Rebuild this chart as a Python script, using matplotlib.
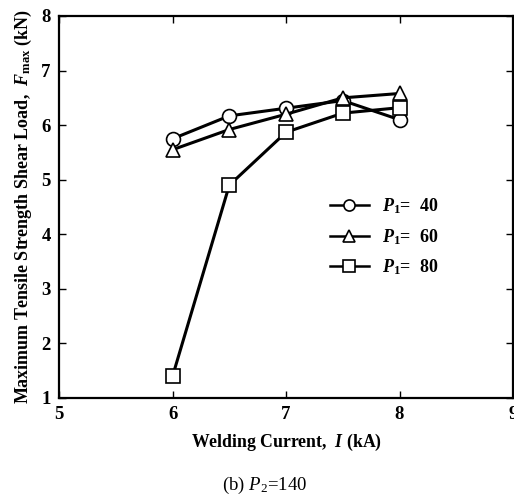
import matplotlib
matplotlib.use("Agg")
import matplotlib.pyplot as plt

# welding current (kA) and peak shear load (kN) for each P1 setting
current = [6.0, 6.5, 7.0, 7.5, 8.0]
load_p40 = [5.75, 6.17, 6.31, 6.45, 6.10]
load_p60 = [5.55, 5.92, 6.20, 6.50, 6.58]
load_p80 = [1.40, 4.90, 5.87, 6.22, 6.32]

series = [
    (load_p40, "o", r"$P_1$=  40"),
    (load_p60, "^", r"$P_1$=  60"),
    (load_p80, "s", r"$P_1$=  80"),
]

plt.rcParams["font.family"] = "Liberation Serif"
plt.rcParams["mathtext.fontset"] = "custom"
plt.rcParams["mathtext.rm"] = "Liberation Serif:bold"
plt.rcParams["mathtext.it"] = "Liberation Serif:italic:bold"
plt.rcParams["mathtext.bf"] = "Liberation Serif:bold"
plt.rcParams["mathtext.sf"] = "Liberation Serif:italic"
plt.rcParams["mathtext.tt"] = "Liberation Serif"


def main():
    fig = plt.figure(figsize=(5.14, 5.00), dpi=100)
    ax = fig.add_axes([0.115, 0.204, 0.883, 0.764])

    for values, marker, label in series:
        ax.plot(current, values, color="black", lw=2.2, marker=marker,
                markersize=10, markerfacecolor="white",
                markeredgecolor="black", markeredgewidth=1.2, label=label)

    ax.set_xlim(5, 9)
    ax.set_ylim(1, 8)
    ax.set_xticks([5, 6, 7, 8, 9])
    ax.set_yticks(range(1, 9))
    ax.tick_params(direction="in", top=True, right=True, length=5,
                   width=1.0, labelsize=13.5, pad=6)
    for lab in ax.get_xticklabels() + ax.get_yticklabels():
        lab.set_fontweight("bold")
    for sp in ax.spines.values():
        sp.set_linewidth(1.6)

    ax.set_xlabel(r"Welding Current,  $I$ (kA)", fontsize=12.8,
                  fontweight="bold", labelpad=6)
    ax.set_ylabel(r"Maximum Tensile Strength Shear Load,  $F_{\mathrm{max}}$ (kN)",
                  fontsize=13, fontweight="bold", labelpad=5)

    leg = ax.legend(loc="upper left", bbox_to_anchor=(0.56, 0.57),
                    frameon=False, handlelength=2.2, handletextpad=0.7,
                    labelspacing=0.6, prop={"weight": "bold", "size": 13})
    for line in leg.get_lines():
        line.set_linewidth(1.8)
        line.set_markersize(8)

    fig.text(0.515, 0.02, r"(b) $\mathsf{P}_{\mathtt{2}}$=140",
             ha="center", fontsize=13.5)

    fig.savefig("out.png", dpi=100)


if __name__ == "__main__":
    main()
